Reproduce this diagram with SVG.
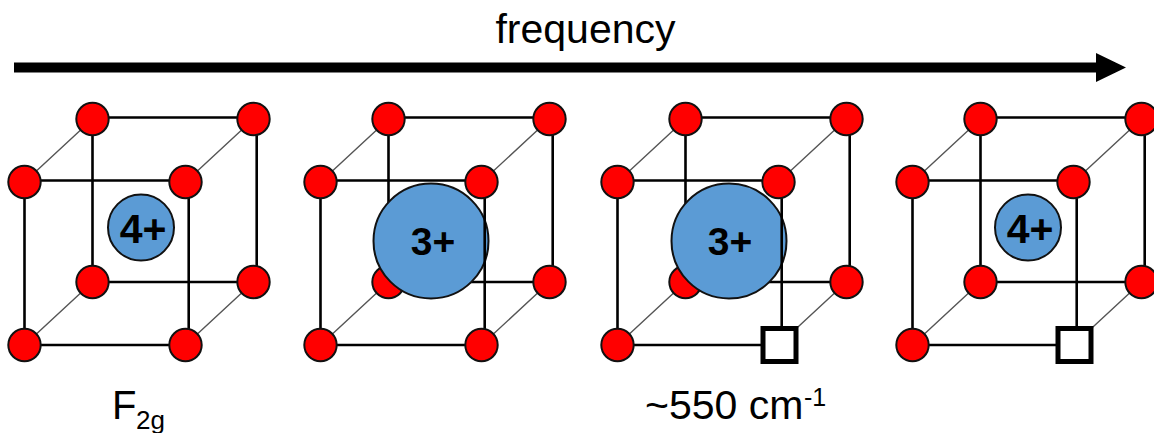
<svg xmlns="http://www.w3.org/2000/svg" width="1154" height="433" viewBox="0 0 1154 433">
<style>
.e{stroke:#000;stroke-width:2.600;fill:none}
.d{stroke:#555;stroke-width:1.400;fill:none}
.o{fill:#f00;stroke:#111;stroke-width:2}
.b{fill:#5b9bd5;stroke:#111;stroke-width:2}
.v{fill:#fff;stroke:#000;stroke-width:5}
text{font-family:"Liberation Sans",Arial,sans-serif;fill:#000}
.c{font-weight:bold;text-anchor:middle}
.f{font-size:41px}
.t{font-size:39px}
.l{font-size:40px}
.s{font-size:26px}
.u{font-size:25px}
</style>
<defs>
<g id="frame-back">
<path class="d" d="M24.500 345L92.500 282M24.500 182L92.500 119M185.500 182L253.500 119M185.500 345L253.500 282"/>
<path class="e" d="M92.500 117.500H253.500M92.500 119V282M92.500 282H253.500M256.700 119V282M24.500 180.500H185.500M24.500 182V345M24.500 345H185.500"/>
</g>
</defs>
<g id="connectors">
<path id="frequency-arrow" d="M14 62.500H1096V53L1126 67.500L1096 82V72.500H14Z" fill="#000"/>
</g>
<g id="label-frequency"><text x="585.500" y="43" font-size="41" text-anchor="middle" style="font-size:41px">frequency</text></g>

<g id="cube-1">
<use href="#frame-back"/>
<circle class="o" cx="92.500" cy="119" r="16.200"/><circle class="o" cx="253.500" cy="119" r="16.200"/>
<circle class="o" cx="92.500" cy="282" r="16.200"/><circle class="o" cx="253.500" cy="282" r="16.200"/>
<circle class="b" cx="141" cy="227.500" r="33"/>
<path class="e" d="M188.700 182V345"/>
<circle class="o" cx="24.500" cy="182" r="16.200"/><circle class="o" cx="185.500" cy="182" r="16.200"/>
<circle class="o" cx="24.500" cy="345" r="16.200"/><circle class="o" cx="185.500" cy="345" r="16.200"/>
<text class="c f" x="143" y="243">4+</text>
</g>

<g id="cube-2" transform="translate(296 0)">
<use href="#frame-back"/>
<circle class="o" cx="92.500" cy="119" r="16.200"/><circle class="o" cx="253.500" cy="119" r="16.200"/>
<circle class="o" cx="92.500" cy="282" r="16.200"/><circle class="o" cx="253.500" cy="282" r="16.200"/>
<circle class="b" cx="135" cy="241" r="57.500"/>
<path class="e" d="M188.700 182V345"/>
<circle class="o" cx="24.500" cy="182" r="16.200"/><circle class="o" cx="185.500" cy="182" r="16.200"/>
<circle class="o" cx="24.500" cy="345" r="16.200"/><circle class="o" cx="185.500" cy="345" r="16.200"/>
<text class="c t" x="137" y="255">3+</text>
</g>

<g id="cube-3" transform="translate(593 0)">
<use href="#frame-back"/>
<circle class="o" cx="92.500" cy="119" r="16.200"/><circle class="o" cx="253.500" cy="119" r="16.200"/>
<circle class="o" cx="92.500" cy="282" r="16.200"/><circle class="o" cx="253.500" cy="282" r="16.200"/>
<circle class="b" cx="136" cy="241" r="57.500"/>
<path class="e" d="M188.700 182V345"/>
<circle class="o" cx="24.500" cy="182" r="16.200"/><circle class="o" cx="185.500" cy="182" r="16.200"/>
<circle class="o" cx="24.500" cy="345" r="16.200"/>
<rect class="v" x="170" y="328.500" width="33" height="33"/>
<text class="c t" x="137" y="255">3+</text>
</g>

<g id="cube-4" transform="translate(888 0)">
<use href="#frame-back"/>
<circle class="o" cx="92.500" cy="119" r="16.200"/><circle class="o" cx="253.500" cy="119" r="16.200"/>
<circle class="o" cx="92.500" cy="282" r="16.200"/><circle class="o" cx="253.500" cy="282" r="16.200"/>
<circle class="b" cx="140" cy="227.500" r="33"/>
<path class="e" d="M188.700 182V345"/>
<circle class="o" cx="24.500" cy="182" r="16.200"/><circle class="o" cx="185.500" cy="182" r="16.200"/>
<circle class="o" cx="24.500" cy="345" r="16.200"/>
<rect class="v" x="170" y="328.500" width="33" height="33"/>
<text class="c f" x="142" y="243">4+</text>
</g>

<g id="label-f2g"><text class="l" x="112" y="419">F</text><text class="s" x="136" y="429">2g</text></g>
<g id="label-550"><text class="f" x="645" y="419">~550 cm</text><text class="u" x="804" y="406">-1</text></g>
</svg>
